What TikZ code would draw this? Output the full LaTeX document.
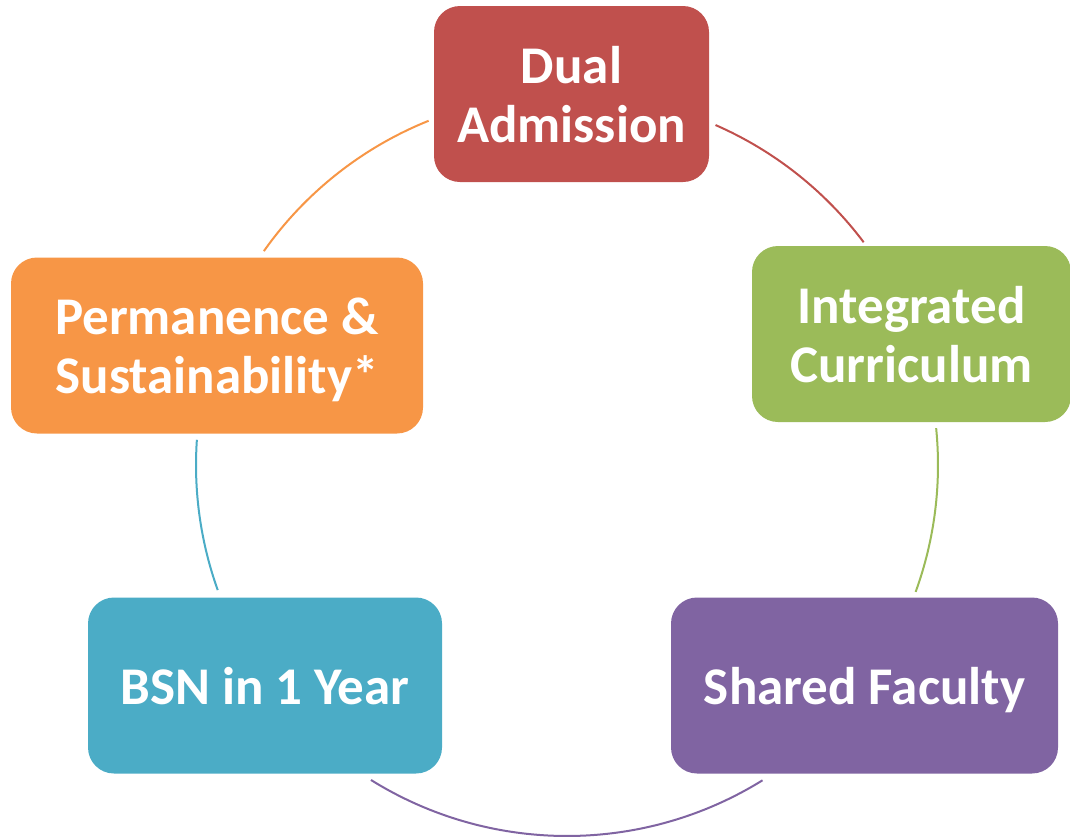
\documentclass[tikz,border=0pt]{standalone}
\usepackage{fontspec}
\setmainfont{Carlito}
\definecolor{cred}{HTML}{C0504D}
\definecolor{cgreen}{HTML}{9BBB59}
\definecolor{cpurple}{HTML}{8064A2}
\definecolor{cblue}{HTML}{4BACC6}
\definecolor{corange}{HTML}{F79646}
\begin{document}
\begin{tikzpicture}[x=1pt,y=-1pt,
  box/.style={rounded corners=26pt, inner sep=0pt, text=white,
    font=\bfseries\fontsize{53}{59}\selectfont, align=center, text depth=0pt,
    minimum height=176pt},
  link/.style={line width=2pt}]
\useasboundingbox (0,0) rectangle (1070,839);
\coordinate (ctr) at (567,465);
% arcs
\draw[link, cred] ([shift={(-66.4:371)}]ctr) arc[start angle=-66.4, end angle=-36.9, radius=371];
\draw[link, cgreen] ([shift={(-5.7:371)}]ctr) arc[start angle=-5.7, end angle=20.0, radius=371];
\draw[link, cpurple] ([shift={(58.2:371)}]ctr) arc[start angle=58.2, end angle=121.9, radius=371];
\draw[link, cblue] ([shift={(-199.7:371)}]ctr) arc[start angle=-199.7, end angle=-176.1, radius=371];
\draw[link, corange] ([shift={(-144.8:371)}]ctr) arc[start angle=-144.8, end angle=-111.9, radius=371];
% boxes
\node[box, fill=cred, minimum width=275pt] (dual) at (571.5,94) {Dual\\Admission};
\node[box, fill=cgreen, minimum width=319pt] (integ) at (911.5,334) {Integrated\\Curriculum};
\node[box, fill=cpurple, minimum width=387pt] (shared) at (864.5,685.5) {Shared Faculty};
\node[box, fill=cblue, minimum width=354pt] (bsn) at (265,685.5) {BSN in 1 Year};
\node[box, fill=corange, minimum width=412pt] (perm) at (217,345.5) {Permanence \&\\Sustainability*};
\end{tikzpicture}
\end{document}
